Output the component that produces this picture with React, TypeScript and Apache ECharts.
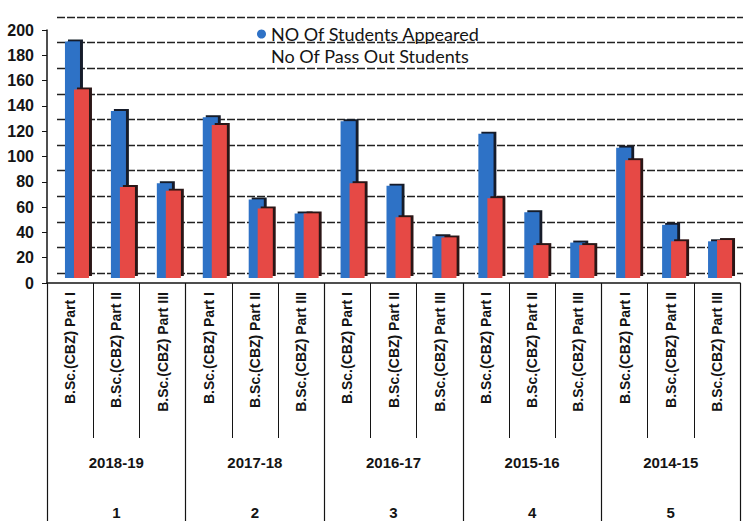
import React, { useEffect, useRef } from "react";
import * as echarts from "echarts";

const partLabels = [
  "B.Sc.(CBZ) Part I", "B.Sc.(CBZ) Part II", "B.Sc.(CBZ) Part III",
  "B.Sc.(CBZ) Part I", "B.Sc.(CBZ) Part II", "B.Sc.(CBZ) Part III",
  "B.Sc.(CBZ) Part I", "B.Sc.(CBZ) Part II", "B.Sc.(CBZ) Part III",
  "B.Sc.(CBZ) Part I", "B.Sc.(CBZ) Part II", "B.Sc.(CBZ) Part III",
  "B.Sc.(CBZ) Part I", "B.Sc.(CBZ) Part II", "B.Sc.(CBZ) Part III",
];
const years = ["2018-19", "2017-18", "2016-17", "2015-16", "2014-15"];
const groupNumbers = ["1", "2", "3", "4", "5"];
const appeared = [187, 132, 75, 127, 62, 51, 124, 73, 33, 114, 52, 28, 103, 42, 29];
const passed = [149, 72, 69, 121, 55, 51, 75, 48, 32, 63, 26, 26, 93, 29, 30];
const yTicks = { min: 0, max: 200, interval: 20 };

const nameA = "NO Of Students Appeared";
const nameB = "No Of Pass Out Students";
const ink = "#141414";

export default function App() {
  const ref = useRef<HTMLDivElement>(null);
  useEffect(() => {
    if (!ref.current) return;
    const chart = echarts.init(ref.current, null, { renderer: "svg" });
    const partIdx = partLabels.map((_, i) => String(i));
    chart.setOption({
      animation: false,
      backgroundColor: "#ffffff",
      grid: [
        { left: 47, right: 3, top: 30, bottom: 238 },
        { left: 57, right: 0, top: 17, bottom: 248 },
        { left: 54, right: 0, top: 25, bottom: 243 },
      ],
      legend: {
        orient: "vertical",
        left: 252,
        top: 20,
        itemGap: 4,
        itemWidth: 9,
        itemHeight: 12,
        textStyle: { fontFamily: "Lato", fontSize: 18, color: ink },
        data: [
          { name: nameA, icon: "circle" },
          { name: nameB, icon: "rect", itemStyle: { opacity: 0 } },
        ],
      },
      xAxis: [
        {
          type: "category",
          gridIndex: 0,
          data: partIdx,
          position: "bottom",
          axisLine: { show: true, lineStyle: { color: ink, width: 1.5 } },
          axisTick: { show: true, interval: 0, length: 155, lineStyle: { color: ink, width: 1 } },
          axisLabel: {
            interval: 0,
            rotate: 90,
            margin: 9,
            fontFamily: "Liberation Sans",
            fontWeight: "bold",
            fontSize: 14,
            color: ink,
            formatter: (v: string) => partLabels[Number(v)],
          },
        },
        {
          type: "category",
          gridIndex: 0,
          data: years,
          position: "bottom",
          axisLine: { show: false },
          axisTick: { show: true, interval: 0, length: 238, lineStyle: { color: ink, width: 1.2 } },
          axisLabel: {
            interval: 0,
            margin: 172,
            fontFamily: "Liberation Sans",
            fontWeight: "bold",
            fontSize: 15,
            color: ink,
          },
        },
        {
          type: "category",
          gridIndex: 0,
          data: groupNumbers,
          position: "bottom",
          axisLine: { show: false },
          axisTick: { show: false },
          axisLabel: {
            interval: 0,
            margin: 222,
            fontFamily: "Liberation Sans",
            fontWeight: "bold",
            fontSize: 15,
            color: ink,
          },
        },
        { type: "category", gridIndex: 1, data: partIdx, show: false },
        { type: "category", gridIndex: 2, data: partIdx, show: false },
      ],
      yAxis: [
        {
          type: "value",
          gridIndex: 0,
          ...yTicks,
          axisLine: { show: true, lineStyle: { color: ink, width: 1.5 } },
          axisTick: { show: true, length: 5, lineStyle: { color: ink } },
          splitLine: { show: false },
          axisLabel: {
            margin: 13,
            fontFamily: "Liberation Sans",
            fontWeight: "bold",
            fontSize: 16,
            color: ink,
          },
        },
        {
          type: "value",
          gridIndex: 1,
          ...yTicks,
          axisLine: { show: false },
          axisTick: { show: false },
          axisLabel: { show: false },
          splitLine: { show: true, lineStyle: { color: "#222222", width: 1.3, type: [8, 2] } },
        },
        { type: "value", gridIndex: 2, ...yTicks, show: false },
      ],
      series: [
        {
          name: nameA,
          type: "bar",
          xAxisIndex: 4,
          yAxisIndex: 2,
          data: appeared,
          barWidth: 15,
          barGap: "-40%",
          itemStyle: {
            color: "#2f72c6",
            shadowColor: "#141a2a",
            shadowOffsetX: 3,
            shadowOffsetY: -2,
            shadowBlur: 0,
          },
        },
        {
          name: nameB,
          type: "bar",
          xAxisIndex: 4,
          yAxisIndex: 2,
          data: passed,
          barWidth: 15,
          barGap: "-40%",
          itemStyle: {
            color: "#e64a44",
            shadowColor: "#2a1414",
            shadowOffsetX: 3,
            shadowOffsetY: -2,
            shadowBlur: 0,
          },
        },
      ],
    });
    return () => chart.dispose();
  }, []);
  return (
    <div
      ref={ref}
      style={{ position: "fixed", left: 0, top: 0, width: 743, height: 521 }}
    />
  );
}
